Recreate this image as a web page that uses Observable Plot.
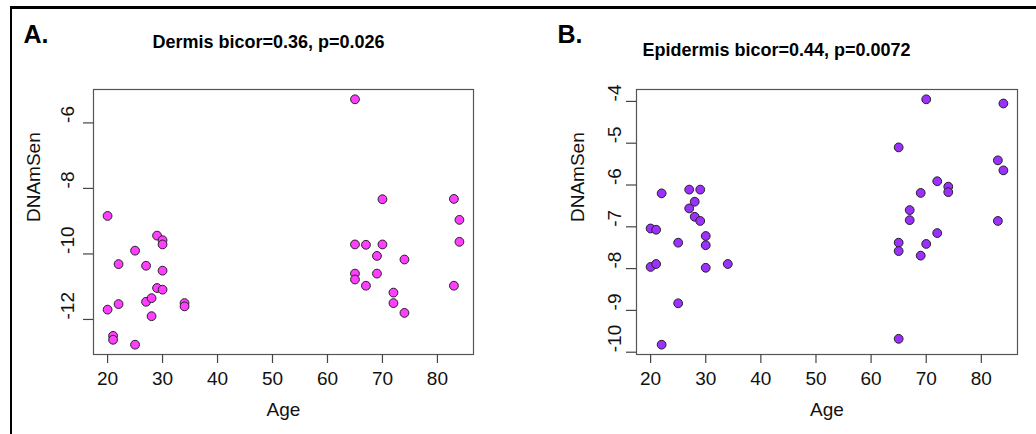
<!DOCTYPE html>
<html><head><meta charset="utf-8">
<script src="https://cdn.jsdelivr.net/npm/d3@7"></script>
<script src="https://cdn.jsdelivr.net/npm/@observablehq/plot@0.6"></script>
<style>
html,body{margin:0;padding:0;background:#fff;}
#fig{position:relative;width:1036px;height:434px;overflow:hidden;background:#fff;font-family:"Liberation Sans",Arial,sans-serif;}
#border{position:absolute;left:10px;top:6px;right:-10px;bottom:-10px;border-top:3px solid #000;border-left:2px solid #000;}
.panel{position:absolute;top:0;}
</style></head><body>
<div id="fig"><div id="border"></div></div>
<script>
// Panel A: Dermis
const ageA  = [20, 21, 21, 25, 25, 22, 22, 20, 27, 27, 28, 28, 29, 30, 30, 30, 29, 30, 34, 34,
               65, 70, 83, 84, 84, 65, 67, 70, 69, 74, 65, 65, 69, 67, 83, 72, 72, 74];
const dnamA = [-8.84, -12.50, -12.62, -12.77, -9.90, -10.31, -11.53, -11.70, -10.36, -11.46, -11.35, -11.90, -9.44, -9.58, -9.71, -10.51, -11.04, -11.09, -11.50, -11.60,
               -5.28, -8.33, -8.32, -8.96, -9.63, -9.71, -9.72, -9.71, -10.06, -10.17, -10.60, -10.78, -10.60, -10.97, -10.97, -11.18, -11.50, -11.80];
// Panel B: Epidermis
const ageB  = [22, 20, 21, 20, 21, 22, 25, 25, 27, 29, 28, 27, 28, 29, 30, 30, 30, 34,
               70, 84, 65, 83, 84, 72, 74, 74, 69, 67, 67, 83, 72, 65, 65, 70, 69, 65];
const dnamB = [-6.20, -7.04, -7.07, -7.96, -7.89, -9.82, -7.38, -8.83, -6.11, -6.11, -6.40, -6.56, -6.76, -6.86, -7.22, -7.44, -7.98, -7.89,
               -3.95, -4.05, -5.10, -5.41, -5.65, -5.91, -6.04, -6.17, -6.19, -6.60, -6.84, -6.86, -7.15, -7.38, -7.58, -7.41, -7.69, -9.68];

const xTicks  = [20, 30, 40, 50, 60, 70, 80];
const yTicksA = [-6, -8, -10, -12];
const yTicksB = [-4, -5, -6, -7, -8, -9, -10];
const letters = ["A.", "B."];
const titles  = ["Dermis bicor=0.36, p=0.026", "Epidermis bicor=0.44, p=0.0072"];
const xLabel = "Age";
const yLabel = "DNAmSen";

const FONT = '"Liberation Sans", Arial, Helvetica, sans-serif';

function padDomain(vals) {
  const [lo, hi] = d3.extent(vals);
  const p = (hi - lo) * 0.04;
  return [lo - p, hi + p];
}

function panel(cfg) {
  const data = cfg.ages.map((a, i) => ({age: a, v: cfg.vals[i]}));
  const allAges = ageA.concat(ageB);
  return Plot.plot({
    width: 518,
    height: 434,
    marginTop: 89,
    marginBottom: 80,
    marginLeft: cfg.marginLeft,
    marginRight: cfg.marginRight,
    x: {domain: padDomain(allAges), axis: null, label: null},
    y: {domain: padDomain(cfg.vals), axis: null, label: null},
    style: {fontFamily: FONT, background: "transparent", overflow: "visible", color: "#000"},
    marks: [
      Plot.frame({stroke: "#555", strokeWidth: 1.2}),
      Plot.axisX(xTicks, {tickSize: 9, tickFormat: () => "", label: null, stroke: "#444", strokeWidth: 1.2}),
      Plot.axisY(cfg.yTicks, {tickSize: 10, tickFormat: () => "", label: null, stroke: "#444", strokeWidth: 1.2}),
      Plot.text(xTicks, {x: d => d, text: d => String(d), frameAnchor: "bottom", dy: 24, lineAnchor: "middle", fontSize: 19, fill: "#111"}),
      Plot.text(cfg.yTicks, {y: d => d, text: d => String(d), frameAnchor: "left", rotate: -90, dx: cfg.yTickDx, lineAnchor: "middle", fontSize: 19, fill: "#111"}),
      Plot.text([xLabel], {frameAnchor: "bottom", dy: 55, lineAnchor: "middle", fontSize: 19, fill: "#111"}),
      Plot.text([yLabel], {frameAnchor: "left", rotate: -90, dx: cfg.yLabDx, lineAnchor: "middle", fontSize: 19, fill: "#111"}),
      Plot.text([cfg.letter], {frameAnchor: "top-left", dx: cfg.letterDx, dy: -47, lineAnchor: "bottom", textAnchor: "start", fontSize: 25, fontWeight: "bold", fill: "#000"}),
      Plot.text([cfg.title], {frameAnchor: "top-left", dx: cfg.titleDx, dy: cfg.titleDy, lineAnchor: "bottom", textAnchor: "middle", fontSize: 18, fontWeight: "bold", fill: "#000"}),
      Plot.dot(data, {x: "age", y: "v", r: 4.4, fill: cfg.color, stroke: "#222", strokeWidth: 1})
    ]
  });
}

const fig = document.getElementById("fig");
const pA = panel({ages: ageA, vals: dnamA, yTicks: yTicksA, color: "#FF3EFF",
  marginLeft: 93, marginRight: 45, yTickDx: -26, yLabDx: -60,
  letter: letters[0], letterDx: -70, title: titles[0], titleDx: 175, titleDy: -42});
pA.classList.add("panel"); pA.style.left = "0px";
const pB = panel({ages: ageB, vals: dnamB, yTicks: yTicksB, color: "#9B30FF",
  marginLeft: 118, marginRight: 19, yTickDx: -22, yLabDx: -59,
  letter: letters[1], letterDx: -79, title: titles[1], titleDx: 140, titleDy: -34});
pB.classList.add("panel"); pB.style.left = "518px";
fig.appendChild(pA);
fig.appendChild(pB);
</script>
</body></html>
